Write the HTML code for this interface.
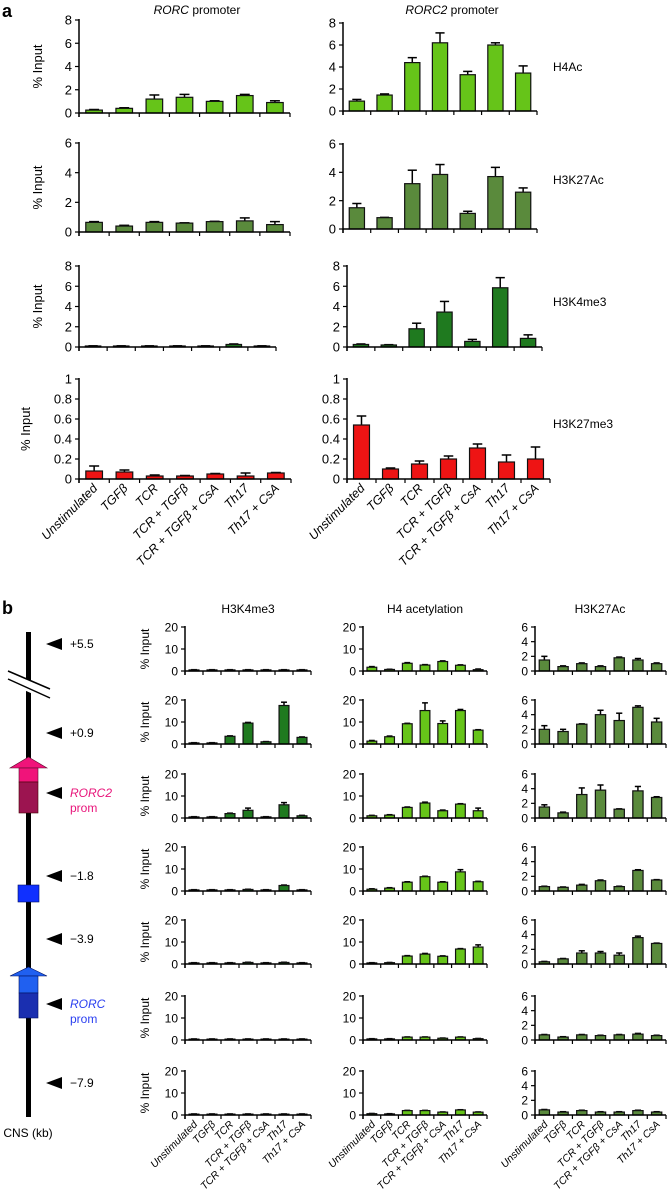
<!DOCTYPE html>
<html><head><meta charset="utf-8">
<style>
html,body{margin:0;padding:0;background:#fff;}
svg{display:block;font-family:"Liberation Sans",Arial,sans-serif;}
</style></head>
<body>
<svg id="fig" width="668" height="1200" viewBox="0 0 668 1200" xmlns="http://www.w3.org/2000/svg">
<text x="2" y="17" font-size="18" font-weight="bold">a</text>
<text x="197" y="14" font-size="12" text-anchor="middle"><tspan font-style="italic">RORC</tspan> promoter</text>
<text x="452" y="14" font-size="12" text-anchor="middle"><tspan font-style="italic">RORC2</tspan> promoter</text>
<text x="553" y="71" font-size="12">H4Ac</text>
<text x="553" y="184" font-size="12">H3K27Ac</text>
<text x="553" y="306" font-size="12">H3K4me3</text>
<text x="553" y="428" font-size="12">H3K27me3</text>
<text x="2" y="614" font-size="18" font-weight="bold">b</text>
<text x="248" y="613" font-size="12" text-anchor="middle">H3K4me3</text>
<text x="425" y="613" font-size="12" text-anchor="middle">H4 acetylation</text>
<text x="600" y="613" font-size="12" text-anchor="middle">H3K27Ac</text>

<g>
  <rect x="26" y="632" width="5" height="485" fill="#000"/>
  <polygon points="6,670 51,690 51,702 6,682" fill="#fff"/>
  <line x1="8" y1="671" x2="50" y2="689" stroke="#000" stroke-width="1.5"/>
  <line x1="8" y1="679" x2="50" y2="698" stroke="#000" stroke-width="1.5"/>
  <polygon points="28.5,757 47,768 10,768" fill="#f0147a" stroke="#5a0a2a" stroke-width="0.6"/>
  <rect x="19" y="768" width="19" height="14" fill="#f0147a" stroke="#5a0a2a" stroke-width="0.6"/>
  <rect x="19" y="782" width="19" height="31" fill="#9c1450" stroke="#400" stroke-width="0.6"/>
  <rect x="18" y="885" width="21" height="17" fill="#1030ff" stroke="#001060" stroke-width="0.6"/>
  <polygon points="28.5,967 47,976 10,976" fill="#2060f0" stroke="#001060" stroke-width="0.6"/>
  <rect x="19" y="976" width="19" height="17" fill="#2060f0" stroke="#001060" stroke-width="0.6"/>
  <rect x="19" y="993" width="19" height="25" fill="#1a2fb0" stroke="#001060" stroke-width="0.6"/>
  <text x="28" y="1137" font-size="12" text-anchor="middle">CNS (kb)</text>
</g>
<g id="charts"></g>
</svg>
<script>
// ---------- data ----------
const categories = ["Unstimulated","TGF\u03b2","TCR","TCR + TGF\u03b2","TCR + TGF\u03b2 + CsA","Th17","Th17 + CsA"];
const ticks8 = [0,2,4,6,8];
const ticks6 = [0,2,4,6];
const ticks1 = [0,0.2,0.4,0.6,0.8,1];
const ticks20 = [0,10,20];
// panel a
const aH4AcRorc = [0.25,0.4,1.2,1.35,1.0,1.5,0.9];
const aH4AcRorcErr = [0.05,0.05,0.35,0.25,0.05,0.1,0.15];
const aH4AcRorc2 = [0.9,1.45,4.4,6.2,3.3,6.0,3.45];
const aH4AcRorc2Err = [0.15,0.1,0.45,0.9,0.3,0.2,0.65];
const aK27AcRorc = [0.65,0.4,0.65,0.6,0.7,0.75,0.5];
const aK27AcRorcErr = [0.05,0.05,0.05,0.02,0.02,0.2,0.2];
const aK27AcRorc2 = [1.5,0.8,3.2,3.85,1.1,3.7,2.6];
const aK27AcRorc2Err = [0.3,0.02,0.95,0.7,0.15,0.65,0.3];
const aK4me3Rorc = [0.1,0.1,0.1,0.1,0.1,0.25,0.1];
const aK4me3RorcErr = [0.02,0.02,0.02,0.02,0.02,0.05,0.02];
const aK4me3Rorc2 = [0.25,0.2,1.8,3.45,0.55,5.85,0.85];
const aK4me3Rorc2Err = [0.05,0.03,0.55,1.05,0.2,1.0,0.35];
const aK27me3Rorc = [0.08,0.07,0.03,0.03,0.05,0.03,0.06];
const aK27me3RorcErr = [0.05,0.02,0.01,0.005,0.005,0.03,0.005];
const aK27me3Rorc2 = [0.54,0.1,0.15,0.2,0.31,0.17,0.2];
const aK27me3Rorc2Err = [0.09,0.01,0.03,0.03,0.04,0.07,0.12];
// panel b (rows: +5.5, +0.9, RORC2 prom, -1.8, -3.9, RORC prom, -7.9)
const bK4me3 = [
 [0.5,0.5,0.5,0.5,0.5,0.5,0.5],
 [0.5,0.5,3.5,9.5,1,17.5,3],
 [0.5,0.5,2,3.5,0.5,6,1],
 [0.5,0.5,0.5,0.7,0.5,2.5,0.5],
 [0.5,0.5,0.5,0.7,0.5,0.7,0.5],
 [0.4,0.4,0.4,0.4,0.4,0.4,0.4],
 [0.4,0.4,0.4,0.4,0.4,0.4,0.4]];
const bK4me3Err = [
 [0.1,0.1,0.1,0.1,0.1,0.1,0.1],
 [0.1,0.1,0.2,0.3,0.1,1.5,0.2],
 [0.1,0.1,0.2,1.0,0.1,1.0,0.2],
 [0.1,0.1,0.1,0.1,0.1,0.2,0.1],
 [0.1,0.1,0.1,0.1,0.1,0.1,0.1],
 [0.1,0.1,0.1,0.1,0.1,0.1,0.1],
 [0.1,0.1,0.1,0.1,0.1,0.1,0.1]];
const bH4ac = [
 [1.7,0.7,3.5,2.7,4.3,2.6,0.6],
 [1.3,3.3,9.2,15.2,9.3,15.2,6.3],
 [1,1.3,4.8,6.8,3.3,6.3,3.3],
 [0.8,1.3,4,6.5,4,8.7,4.2],
 [0.5,0.6,3.6,4.5,3.5,6.8,7.7],
 [0.5,0.5,1.3,1.3,0.8,1.3,0.6],
 [0.6,0.5,2,2,1.3,2.3,1.3]];
const bH4acErr = [
 [0.3,0.1,0.3,0.2,0.3,0.2,0.3],
 [0.3,0.3,0.2,3.5,1.2,0.5,0.2],
 [0.2,0.2,0.2,0.4,0.3,0.2,1.2],
 [0.2,0.2,0.2,0.2,0.2,1.0,0.2],
 [0.1,0.1,0.2,0.3,0.2,0.2,1.0],
 [0.1,0.1,0.1,0.1,0.1,0.1,0.1],
 [0.1,0.1,0.1,0.1,0.1,0.1,0.1]];
const bK27ac = [
 [1.5,0.6,1.0,0.6,1.8,1.5,1.0],
 [2,1.7,2.7,4.0,3.2,5.0,3],
 [1.5,0.7,3.2,3.8,1.2,3.7,2.8],
 [0.6,0.5,0.8,1.4,0.6,2.8,1.5],
 [0.3,0.7,1.5,1.5,1.2,3.6,2.8],
 [0.7,0.4,0.7,0.6,0.7,0.8,0.6],
 [0.7,0.4,0.6,0.4,0.4,0.6,0.4]];
const bK27acErr = [
 [0.5,0.1,0.1,0.1,0.1,0.2,0.1],
 [0.5,0.3,0.05,0.6,1.0,0.2,0.5],
 [0.3,0.1,0.9,0.7,0.05,0.6,0.1],
 [0.05,0.05,0.1,0.1,0.05,0.1,0.05],
 [0.05,0.05,0.3,0.2,0.3,0.2,0.05],
 [0.05,0.05,0.05,0.05,0.05,0.1,0.05],
 [0.05,0.05,0.05,0.05,0.05,0.05,0.05]];
const bMarkers = ["+5.5","+0.9","RORC2","\u22121.8","\u22123.9","RORC","\u22127.9"];

// ---------- drawing ----------
const NS = "http://www.w3.org/2000/svg";
const root = document.getElementById("charts");
function mk(tag, attrs, parent){
  const e = document.createElementNS(NS, tag);
  for (const k in attrs) e.setAttribute(k, attrs[k]);
  parent.appendChild(e);
  return e;
}
function chart(c){
  const g = mk("g", {}, root);
  
  
  const n = categories.length;
  const cw = (c.x1 - c.x0) / n;
  const yS = v => c.zero - (v / c.max) * (c.zero - c.top);
  const xC = i => c.x0 + cw * (i + 0.5);
  const bw = cw * 0.55;
  const fs = c.fs || 13;
  // bars
  c.vals.forEach((v, i) => {
    const y = yS(v), e = c.errs[i];
    const ye = yS(v + e);
    const ln = mk("line", {x1:xC(i), x2:xC(i), y1:y, y2:ye, stroke:"#000", "stroke-width":1.5}, g);
    
    
    const cap = mk("line", {x1:xC(i)-bw*0.3, x2:xC(i)+bw*0.3, y1:ye, y2:ye, stroke:"#000", "stroke-width":1.5}, g);
    
    
    const r = mk("rect", {x:xC(i)-bw/2, y:y, width:bw, height:Math.max(c.zero - y, 0.8), fill:c.color, stroke:"#111", "stroke-width":1.2}, g);
    
    
  });
  // axes
  const ya = mk("line", {x1:c.x0, x2:c.x0, y1:c.top-1, y2:c.zero+4, stroke:"#000", "stroke-width":1.5}, g);
  
  
  const xa = mk("line", {x1:c.x0, x2:c.x1, y1:c.zero, y2:c.zero, stroke:"#000", "stroke-width":1.5}, g);
  
  
  for (let i = 0; i <= n; i++) {
    const xx = c.x0 + cw * i;
    const t = mk("line", {x1:xx, x2:xx, y1:c.zero, y2:c.zero+4, stroke:"#000", "stroke-width":1.2}, g);
    
    
  }
  c.ticks.forEach(tv => {
    const yy = yS(tv);
    const t = mk("line", {x1:c.x0-4, x2:c.x0, y1:yy, y2:yy, stroke:"#000", "stroke-width":1.2}, g);
    
    
    const tx = mk("text", {x:c.x0-7, y:yy+fs*0.36, "font-size":fs, "text-anchor":"end"}, g);
    tx.textContent = String(tv);
    
    
  });
  if (c.ylab) {
    const cy = (c.top + c.zero) / 2;
    const yl = mk("text", {x:c.ylabX, y:cy, "font-size":fs, "text-anchor":"middle", transform:`rotate(-90 ${c.ylabX} ${cy})`}, g);
    yl.textContent = "% Input";
    
    
  }
  if (c.xlab) {
    categories.forEach((cat, i) => {
      const lx = xC(i) + 4, ly = c.zero + 10;
      const t = mk("text", {x:lx, y:ly, "font-size":c.xfs, "text-anchor":"end", "font-style":"italic", transform:`rotate(-45 ${lx} ${ly})`}, g);
      t.textContent = cat;
      
      
    });
  }
}
const LG = "#66c419", MG = "#5a8a3c", DG = "#1f7a1f", RD = "#ee1414";
// panel a
chart({name:"a-h4ac-rorc", x0:79,x1:290,zero:113,top:20,max:8,ticks:ticks8,vals:aH4AcRorc,errs:aH4AcRorcErr,color:LG,ylab:true,ylabX:42});
chart({name:"a-h4ac-rorc2", x0:343,x1:537,zero:111,top:23,max:8,ticks:ticks8,vals:aH4AcRorc2,errs:aH4AcRorc2Err,color:LG});
chart({name:"a-h3k27ac-rorc", x0:79,x1:290,zero:232,top:143,max:6,ticks:ticks6,vals:aK27AcRorc,errs:aK27AcRorcErr,color:MG,ylab:true,ylabX:42});
chart({name:"a-h3k27ac-rorc2", x0:343,x1:537,zero:229,top:144,max:6,ticks:ticks6,vals:aK27AcRorc2,errs:aK27AcRorc2Err,color:MG});
chart({name:"a-h3k4me3-rorc", x0:79,x1:276,zero:347,top:266,max:8,ticks:ticks8,vals:aK4me3Rorc,errs:aK4me3RorcErr,color:DG,ylab:true,ylabX:42});
chart({name:"a-h3k4me3-rorc2", x0:347,x1:542,zero:347,top:266,max:8,ticks:ticks8,vals:aK4me3Rorc2,errs:aK4me3Rorc2Err,color:DG});
chart({name:"a-h3k27me3-rorc", x0:79,x1:291,zero:479,top:379,max:1,ticks:ticks1,vals:aK27me3Rorc,errs:aK27me3RorcErr,color:RD,ylab:true,ylabX:30,xlab:true,xfs:12.5});
chart({name:"a-h3k27me3-rorc2", x0:347,x1:550,zero:479,top:379,max:1,ticks:ticks1,vals:aK27me3Rorc2,errs:aK27me3Rorc2Err,color:RD,xlab:true,xfs:12.5});
// panel b
const rowZero = [671,744,818,891,964,1040,1115];
const markerY = [644,733,793,876,939,1004,1083];
rowZero.forEach((z, r) => {
  const last = r === rowZero.length - 1;
  chart({name:"b-h3k4me3-row-"+(r+1), x0:185,x1:311,zero:z,top:z-44,max:20,ticks:ticks20,vals:bK4me3[r],errs:bK4me3Err[r],color:DG,ylab:true,ylabX:149,fs:12,xlab:last,xfs:10.5});
  chart({name:"b-h4ac-row-"+(r+1), x0:363,x1:487,zero:z,top:z-44,max:20,ticks:ticks20,vals:bH4ac[r],errs:bH4acErr[r],color:LG,fs:12,xlab:last,xfs:10.5});
  chart({name:"b-h3k27ac-row-"+(r+1), x0:535,x1:666,zero:z,top:z-44,max:6,ticks:ticks6,vals:bK27ac[r],errs:bK27acErr[r],color:MG,fs:12,xlab:last,xfs:10.5});
});
// locus markers
const svg = document.getElementById("fig");
bMarkers.forEach((m, i) => {
  const y = markerY[i];
  const tri = mk("polygon", {points:`46,${y} 62,${y-6} 62,${y+6}`, fill:"#000"}, svg);
  
  
  const t = mk("text", {x:70, y:y+4, "font-size":12}, svg);
  
  
  if (m === "RORC2" || m === "RORC") {
    const col = m === "RORC2" ? "#e8147a" : "#2a3ff0";
    t.setAttribute("fill", col);
    t.setAttribute("font-style", "italic");
    t.textContent = m;
    const p = mk("text", {x:70, y:y+19, "font-size":12, fill:col}, svg);
    p.textContent = "prom";
    
    
  } else {
    t.textContent = m;
  }
});
</script>
</body></html>
